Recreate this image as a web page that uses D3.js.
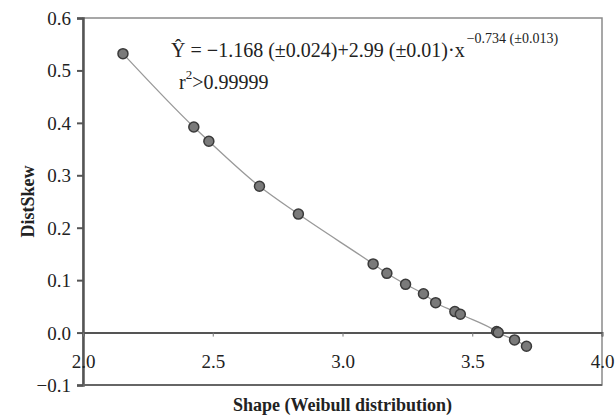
<!DOCTYPE html>
<html>
<head>
<meta charset="utf-8">
<script src="https://cdn.jsdelivr.net/npm/d3@7"></script>
<style>
  body { margin: 0; background: #fff; }
  svg text { font-family: "Liberation Serif", "Times New Roman", serif; fill: #222; }
</style>
</head>
<body>
<div id="chart"></div>
<script>
// shape values (x) and DistSkew values (y)
const shapeVals = [2.154, 2.427, 2.485, 2.68, 2.83, 3.118, 3.171, 3.243, 3.312, 3.359, 3.433, 3.454, 3.594, 3.600, 3.663, 3.709];
const skewVals  = [0.532, 0.392, 0.365, 0.279, 0.226, 0.131, 0.113, 0.092, 0.074, 0.057, 0.040, 0.035, 0.002, 0.000, -0.014, -0.026];
const xTicks = [2.0, 2.5, 3.0, 3.5, 4.0];
const yTicks = [-0.1, 0.0, 0.1, 0.2, 0.3, 0.4, 0.5, 0.6];

const points = shapeVals.map((s, i) => ({ x: s, y: skewVals[i] }));

const W = 616, H = 416;
const margin = { top: 18, right: 14, bottom: 31, left: 83 };
const width = W - margin.left - margin.right;
const height = H - margin.top - margin.bottom;
const serif = "'Liberation Serif', 'Times New Roman', serif";

const svg = d3.select("#chart").append("svg")
  .attr("width", W)
  .attr("height", H);

const g = svg.append("g")
  .attr("transform", `translate(${margin.left},${margin.top})`);

const x = d3.scaleLinear().domain([2.0, 4.0]).range([0, width]);
const y = d3.scaleLinear().domain([-0.1, 0.6]).range([height, 0]);

// frame (top and right in lighter gray)
g.append("rect")
  .attr("x", 0).attr("y", 0)
  .attr("width", width).attr("height", height)
  .attr("fill", "none")
  .attr("stroke", "#8a8a8a")
  .attr("stroke-width", 1.5);

// y axis
const yAxis = g.append("g")
  .call(d3.axisLeft(y).tickValues(yTicks).tickSize(6)
    .tickFormat(d => (d < 0 ? "\u2212" : "") + Math.abs(d).toFixed(1)));
yAxis.select(".domain").attr("stroke", "#555").attr("stroke-width", 2.5);
yAxis.selectAll(".tick line").attr("stroke", "#555").attr("stroke-width", 2);
yAxis.selectAll(".tick text")
  .attr("x", -12)
  .attr("dy", "0.34em")
  .attr("font-family", serif)
  .attr("font-size", 19)
  .attr("fill", "#222");

// bottom border at -0.1
g.append("line")
  .attr("x1", 0).attr("x2", width)
  .attr("y1", y(-0.1)).attr("y2", y(-0.1))
  .attr("stroke", "#666").attr("stroke-width", 2);

// x axis along y = 0
const xAxis = g.append("g")
  .attr("transform", `translate(0,${y(0)})`)
  .call(d3.axisBottom(x).tickValues(xTicks).tickSize(4).tickFormat(d3.format(".1f")));
xAxis.select(".domain").attr("stroke", "#555").attr("stroke-width", 2);
xAxis.selectAll(".tick line").attr("stroke", "#777").attr("stroke-width", 1);
xAxis.selectAll(".tick text")
  .attr("y", 22)
  .attr("font-family", serif)
  .attr("font-size", 19)
  .attr("fill", "#222");

// fitted curve through the points
const line = d3.line()
  .x(d => x(d.x))
  .y(d => y(d.y))
  .curve(d3.curveMonotoneX);

g.append("path")
  .datum(points)
  .attr("d", line)
  .attr("fill", "none")
  .attr("stroke", "#999")
  .attr("stroke-width", 1.3);

// markers
g.selectAll(".pt")
  .data(points)
  .enter()
  .append("circle")
  .attr("class", "pt")
  .attr("cx", d => x(d.x))
  .attr("cy", d => y(d.y))
  .attr("r", 5)
  .attr("fill", "#7a7a7a")
  .attr("stroke", "#3a3a3a")
  .attr("stroke-width", 1.5);

// equation
const eq = svg.append("text")
  .attr("x", 171)
  .attr("y", 57)
  .attr("font-family", serif)
  .attr("font-size", 20);
eq.append("tspan").text("\u0176 = ");
eq.append("tspan").attr("font-weight", "bold").text("\u2212");
eq.append("tspan").text("1.168 (\u00b10.024)+2.99 (\u00b10.01)\u00b7x");
eq.append("tspan")
  .attr("dy", -14)
  .attr("dx", 2)
  .attr("font-size", 14)
  .text("\u22120.734 (\u00b10.013)");

const r2 = svg.append("text")
  .attr("x", 179)
  .attr("y", 89)
  .attr("font-family", serif)
  .attr("font-size", 20);
r2.append("tspan").text("r");
r2.append("tspan").attr("dy", -10).attr("font-size", 13).text("2");
r2.append("tspan").attr("dy", 10).text(">0.99999");

// axis titles
svg.append("text")
  .attr("x", margin.left + width / 2)
  .attr("y", 411)
  .attr("text-anchor", "middle")
  .attr("font-family", serif)
  .attr("font-size", 18)
  .attr("font-weight", "bold")
  .text("Shape (Weibull distribution)");

svg.append("text")
  .attr("transform", `translate(34,${margin.top + height / 2}) rotate(-90)`)
  .attr("text-anchor", "middle")
  .attr("font-family", serif)
  .attr("font-size", 18)
  .attr("font-weight", "bold")
  .text("DistSkew");
</script>
</body>
</html>
